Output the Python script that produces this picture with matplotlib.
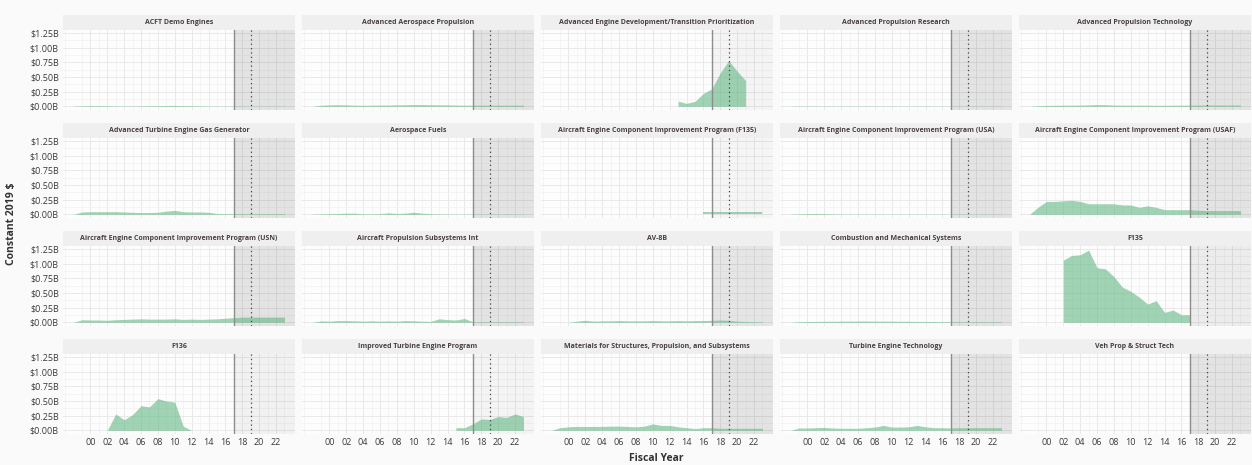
import numpy as np
import matplotlib
matplotlib.use("Agg")
import matplotlib.pyplot as plt
from matplotlib.ticker import FixedLocator, FuncFormatter

plt.rcParams['font.family'] = ['Open Sans', 'DejaVu Sans']

# Fiscal years 1998-2023, values in billions of constant 2019 $
years = np.arange(1998, 2024)
nan = np.nan

acft_demo = [0.005, 0.008, 0.012, 0.012, 0.010, 0.008, 0.006, 0.007, 0.008, 0.010, 0.012, 0.014,
             0.016, 0.012, 0.010, 0.008, 0.006, 0.005, 0.005, 0.005, 0.004, 0.004, 0.004, 0.004, 0.004, 0.004]
adv_aero_prop = [0.0, 0.020, 0.025, 0.028, 0.025, 0.020, 0.018, 0.020, 0.022, 0.022, 0.025, 0.028,
                 0.030, 0.030, 0.028, 0.025, 0.025, 0.022, 0.020, 0.020, 0.020, 0.020, 0.020, 0.020, 0.020, 0.020]
adv_engine_dev = [nan] * 15 + [0.09, 0.05, 0.085, 0.22, 0.30, 0.57, 0.78, 0.60, 0.44] + [nan] * 2
adv_prop_research = [0.004, 0.006, 0.006, 0.005, 0.005, 0.005, 0.004, 0.005, 0.006, 0.006, 0.005, 0.005,
                     0.005, 0.004, 0.004, 0.005, 0.005, 0.004, 0.004, 0.004, 0.004, 0.004, 0.004, 0.004, 0.004, 0.004]
adv_prop_tech = [0.0, 0.012, 0.015, 0.018, 0.020, 0.020, 0.022, 0.025, 0.030, 0.028, 0.022, 0.020,
                 0.020, 0.020, 0.020, 0.018, 0.018, 0.020, 0.020, 0.020, 0.022, 0.022, 0.022, 0.022, 0.022, 0.022]
ateg_gen = [0.0, 0.040, 0.045, 0.045, 0.045, 0.045, 0.040, 0.035, 0.030, 0.030, 0.035, 0.055,
            0.067, 0.045, 0.040, 0.040, 0.035, 0.015, 0.012, 0.012, 0.012, 0.012, 0.012, 0.012, 0.012, 0.012]
aero_fuels = [0.005, 0.008, 0.012, 0.015, 0.020, 0.020, 0.010, 0.008, 0.012, 0.025, 0.015, 0.020,
              0.035, 0.020, 0.012, 0.008, 0.006, 0.005, 0.005, 0.005, 0.005, 0.005, 0.005, 0.005, 0.005, 0.005]
aecip_f135 = [nan] * 18 + [0.035] * 8
aecip_usa = [0.004, 0.008, 0.012, 0.015, 0.012, 0.008, 0.006, 0.005, 0.005, 0.005, 0.005, 0.004,
             0.004, 0.004, 0.004, 0.004, 0.004, 0.004, 0.004, 0.004, 0.004, 0.004, 0.004, 0.004, 0.004, 0.004]
aecip_usaf = [0.0, 0.12, 0.22, 0.22, 0.23, 0.24, 0.22, 0.18, 0.18, 0.18, 0.18, 0.16,
              0.16, 0.12, 0.145, 0.12, 0.08, 0.08, 0.08, 0.08, 0.07, 0.065, 0.065, 0.065, 0.065, 0.065]
aecip_usn = [0.0, 0.045, 0.040, 0.040, 0.035, 0.045, 0.050, 0.055, 0.060, 0.055, 0.055, 0.055,
             0.060, 0.050, 0.055, 0.050, 0.055, 0.060, 0.070, 0.080, 0.090, 0.090, 0.090, 0.090, 0.090, 0.090]
prop_subsys = [0.0, 0.025, 0.020, 0.030, 0.030, 0.025, 0.020, 0.025, 0.020, 0.025, 0.020, 0.030,
               0.025, 0.020, 0.015, 0.060, 0.045, 0.040, 0.065, 0.010, 0.010, 0.010, 0.010, 0.010, 0.010, 0.010]
av8b = [nan, nan, 0.0, 0.020, 0.035, 0.020, 0.025, 0.025, 0.030, 0.025, 0.025, 0.025,
        0.030, 0.025, 0.025, 0.030, 0.025, 0.030, 0.030, 0.035, 0.040, 0.035, 0.020, 0.015, 0.010, 0.010]
combustion = [0.0, 0.012, 0.015, 0.015, 0.018, 0.018, 0.020, 0.020, 0.022, 0.022, 0.020, 0.020,
              0.020, 0.018, 0.018, 0.015, 0.015, 0.015, 0.012, 0.012, 0.010, 0.010, 0.010, 0.010, 0.010, 0.010]
f135 = [nan] * 4 + [1.06, 1.14, 1.15, 1.23, 0.93, 0.91, 0.78, 0.60, 0.53, 0.43, 0.31, 0.37,
                    0.17, 0.21, 0.13, 0.13] + [nan] * 6
f136 = [nan] * 4 + [0.0, 0.28, 0.18, 0.27, 0.42, 0.40, 0.54, 0.50, 0.48, 0.07, 0.0] + [nan] * 11
itep = [nan] * 17 + [0.045, 0.045, 0.11, 0.195, 0.185, 0.235, 0.22, 0.28, 0.235]
materials = [0.0, 0.045, 0.060, 0.067, 0.065, 0.067, 0.067, 0.072, 0.072, 0.067, 0.060, 0.072,
             0.110, 0.084, 0.084, 0.060, 0.045, 0.030, 0.045, 0.045, 0.035, 0.035, 0.035, 0.035, 0.035, 0.035]
turbine_tech = [0.0, 0.040, 0.040, 0.045, 0.050, 0.040, 0.035, 0.035, 0.035, 0.045, 0.056, 0.084,
                0.056, 0.056, 0.060, 0.084, 0.060, 0.045, 0.045, 0.040, 0.045, 0.045, 0.045, 0.045, 0.045, 0.045]
veh_prop = [0.002] * 26

titles = ["ACFT Demo Engines", "Advanced Aerospace Propulsion",
          "Advanced Engine Development/Transition Prioritization", "Advanced Propulsion Research",
          "Advanced Propulsion Technology", "Advanced Turbine Engine Gas Generator", "Aerospace Fuels",
          "Aircraft Engine Component Improvement Program (F135)",
          "Aircraft Engine Component Improvement Program (USA)",
          "Aircraft Engine Component Improvement Program (USAF)",
          "Aircraft Engine Component Improvement Program (USN)", "Aircraft Propulsion Subsystems Int",
          "AV-8B", "Combustion and Mechanical Systems", "F135", "F136", "Improved Turbine Engine Program",
          "Materials for Structures, Propulsion, and Subsystems", "Turbine Engine Technology",
          "Veh Prop & Struct Tech"]
series = [acft_demo, adv_aero_prop, adv_engine_dev, adv_prop_research, adv_prop_tech,
          ateg_gen, aero_fuels, aecip_f135, aecip_usa, aecip_usaf,
          aecip_usn, prop_subsys, av8b, combustion, f135,
          f136, itep, materials, turbine_tech, veh_prop]

y_ticks = [0, 0.25, 0.5, 0.75, 1.0, 1.25]
x_ticks = list(range(2000, 2023, 2))
current_fy = 2017
budget_fy = 2019

W, H = 1252, 465
fig = plt.figure(figsize=(W / 100, H / 100), dpi=100)
fig.patch.set_facecolor('#fafafa')

xlim = (1996.75, 2024.25)
fill_col = '#61b782'

for i, (title, vals) in enumerate(zip(titles, series)):
    r, c = divmod(i, 5)
    left = 63 + 239 * c
    top = 30 + 108 * r
    ax = fig.add_axes([left / W, 1 - (top + 80) / H, 232 / W, 80 / H])
    ax.set_facecolor('#fdfdfd')
    vals = np.array(vals, dtype=float)
    ok = ~np.isnan(vals)
    n_rows = ok.sum()

    ax.set_xlim(*xlim)
    ax.set_ylim(-0.062, 1.30)
    ax.xaxis.set_major_locator(FixedLocator(x_ticks))
    ax.xaxis.set_minor_locator(FixedLocator(list(range(1997, 2025, 2))))
    ax.yaxis.set_major_locator(FixedLocator(y_ticks))
    ax.yaxis.set_minor_locator(FixedLocator([0.125, 0.375, 0.625, 0.875, 1.125]))
    ax.grid(True, which='major', color='#e6e6e6', lw=0.6)
    ax.grid(True, which='minor', color='#f1f1f1', lw=0.5)
    ax.set_axisbelow(True)

    # shaded "future" region, darker where the program has more rows
    alpha = 1 - (1 - 0.0042) ** n_rows
    ax.axvspan(current_fy, xlim[1], color='black', alpha=alpha, lw=0, zorder=1)

    ax.fill_between(years, 0, np.nan_to_num(vals), where=ok, color=fill_col, alpha=0.6,
                    lw=0, zorder=2)
    ax.axvline(current_fy, color='#8c8c8c', lw=1.0, zorder=3)
    ax.axvline(budget_fy, color='#444444', lw=0.9, ls=(0, (1, 2.5)), zorder=3)

    for s in ax.spines.values():
        s.set_visible(False)
    ax.tick_params(which='both', length=0, labelsize=6.5, labelcolor='#3a3a3a', pad=3)
    if c == 0:
        ax.yaxis.set_major_formatter(FuncFormatter(lambda v, p: f'${v:.2f}B'))
    else:
        ax.set_yticklabels([])
    if r == 3:
        ax.xaxis.set_major_formatter(FuncFormatter(lambda v, p: f'{int(v) % 100:02d}'))
    else:
        ax.set_xticklabels([])

    # facet strip
    sax = fig.add_axes([left / W, 1 - top / H, 232 / W, 15 / H])
    sax.set_facecolor('#efefef')
    sax.set_xticks([])
    sax.set_yticks([])
    for s in sax.spines.values():
        s.set_visible(False)
    sax.text(0.5, 0.5, title, ha='center', va='center', fontsize=5.0, fontweight='bold',
             color='#4a3f3f', transform=sax.transAxes)

fig.text(656 / W, 1 - 458 / H, 'Fiscal Year', ha='center', va='center', fontsize=7.5,
         fontweight='bold', color='#333333')
fig.text(12 / W, 1 - 224 / H, 'Constant 2019 $', ha='center', va='center', rotation=90,
         fontsize=7.5, fontweight='bold', color='#333333')

fig.savefig('out.png', dpi=100, facecolor=fig.get_facecolor())
